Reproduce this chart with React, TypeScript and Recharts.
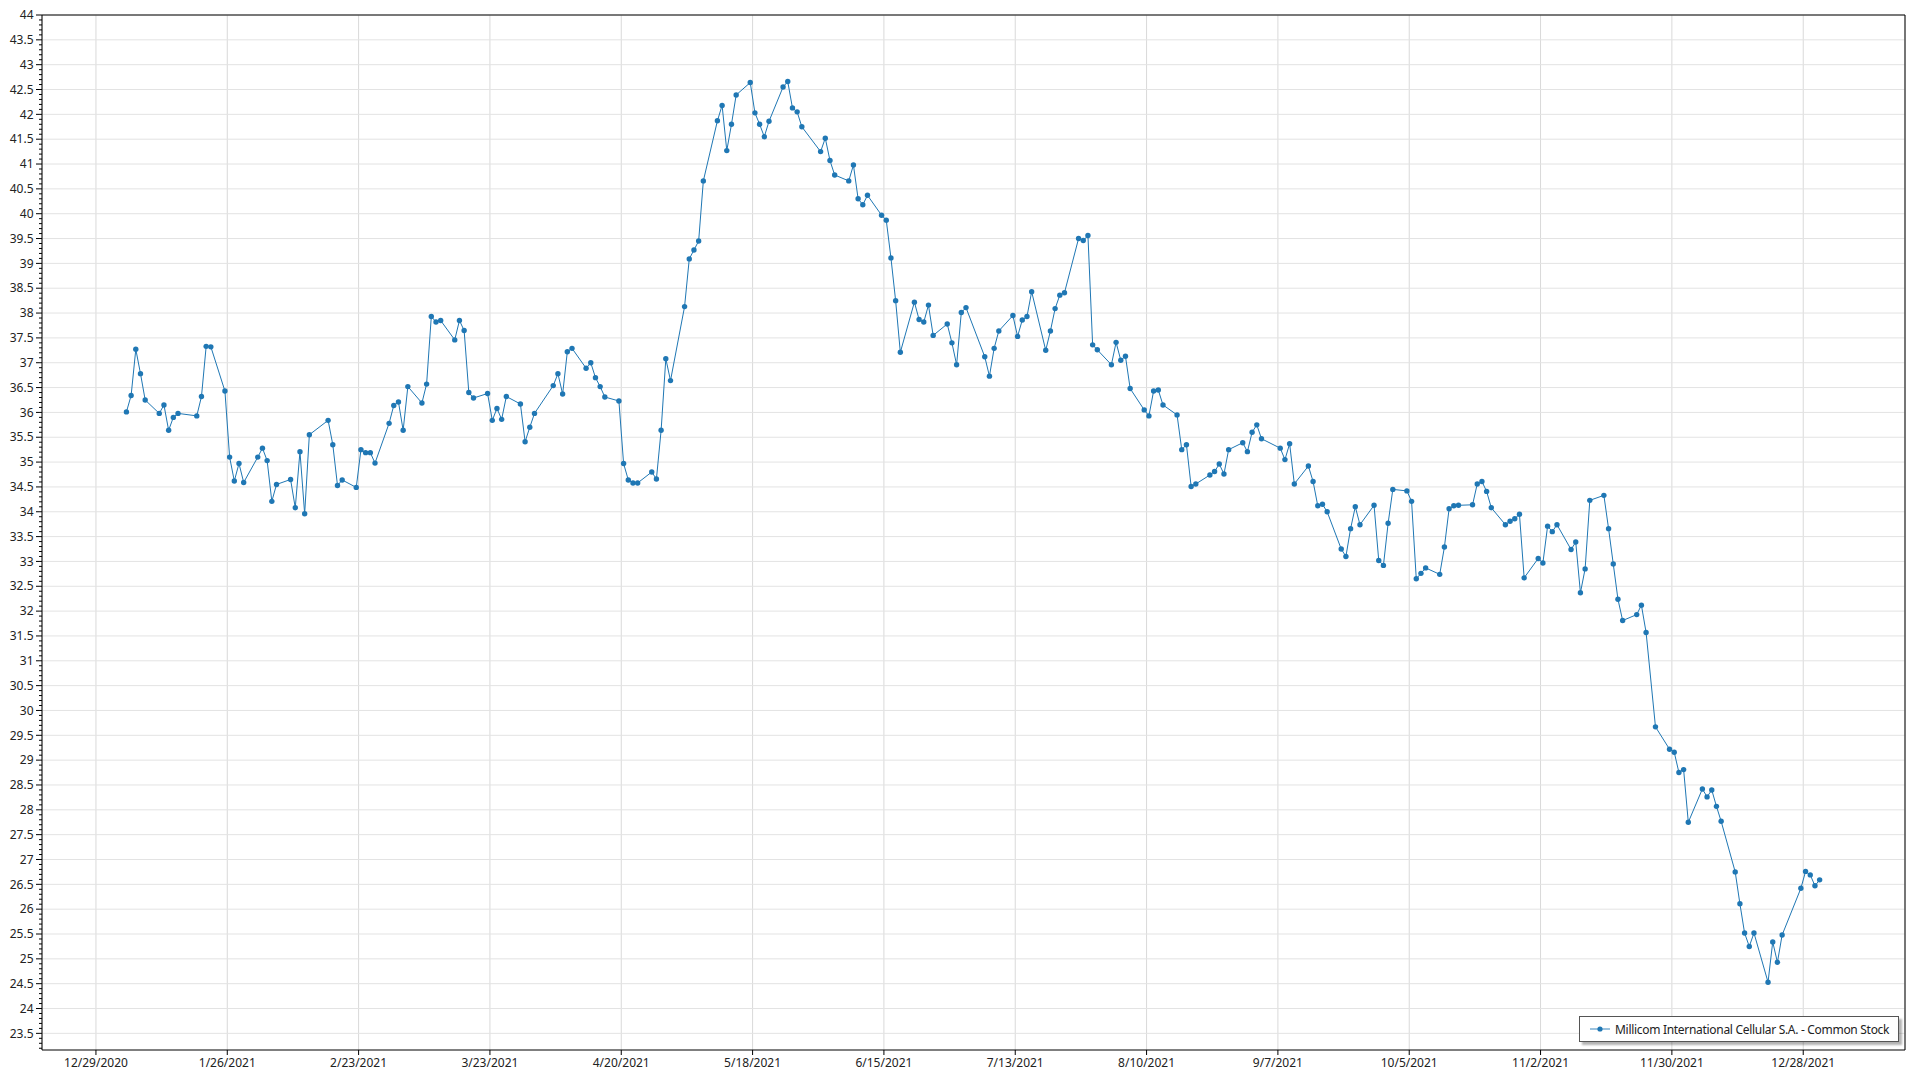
import { CartesianGrid, Legend, Line, LineChart, ReferenceLine, XAxis, YAxis } from "recharts";

// trading days of 2021 (M/D) and the closing price on each
const tradeDays = [
  "1/4", "1/5", "1/6", "1/7", "1/8", "1/11", "1/12", "1/13", "1/14", "1/15",
  "1/19", "1/20", "1/21", "1/22", "1/25", "1/26", "1/27", "1/28", "1/29",
  "2/1", "2/2", "2/3", "2/4", "2/5", "2/8", "2/9", "2/10", "2/11", "2/12",
  "2/16", "2/17", "2/18", "2/19", "2/22", "2/23", "2/24", "2/25", "2/26",
  "3/1", "3/2", "3/3", "3/4", "3/5", "3/8", "3/9", "3/10", "3/11", "3/12",
  "3/15", "3/16", "3/17", "3/18", "3/19", "3/22", "3/23", "3/24", "3/25", "3/26",
  "3/29", "3/30", "3/31", "4/1",
  "4/5", "4/6", "4/7", "4/8", "4/9", "4/12", "4/13", "4/14", "4/15", "4/16",
  "4/19", "4/20", "4/21", "4/22", "4/23", "4/26", "4/27", "4/28", "4/29", "4/30",
  "5/3", "5/4", "5/5", "5/6", "5/7", "5/10", "5/11", "5/12", "5/13", "5/14",
  "5/17", "5/18", "5/19", "5/20", "5/21", "5/24", "5/25", "5/26", "5/27", "5/28",
  "6/1", "6/2", "6/3", "6/4", "6/7", "6/8", "6/9", "6/10", "6/11",
  "6/14", "6/15", "6/16", "6/17", "6/18", "6/21", "6/22", "6/23", "6/24", "6/25",
  "6/28", "6/29", "6/30", "7/1", "7/2",
  "7/6", "7/7", "7/8", "7/9", "7/12", "7/13", "7/14", "7/15", "7/16",
  "7/19", "7/20", "7/21", "7/22", "7/23", "7/26", "7/27", "7/28", "7/29", "7/30",
  "8/2", "8/3", "8/4", "8/5", "8/6", "8/9", "8/10", "8/11", "8/12", "8/13",
  "8/16", "8/17", "8/18", "8/19", "8/20", "8/23", "8/24", "8/25", "8/26", "8/27",
  "8/30", "8/31", "9/1", "9/2", "9/3",
  "9/7", "9/8", "9/9", "9/10", "9/13", "9/14", "9/15", "9/16", "9/17",
  "9/20", "9/21", "9/22", "9/23", "9/24", "9/27", "9/28", "9/29", "9/30", "10/1",
  "10/4", "10/5", "10/6", "10/7", "10/8", "10/11", "10/12", "10/13", "10/14", "10/15",
  "10/18", "10/19", "10/20", "10/21", "10/22", "10/25", "10/26", "10/27", "10/28", "10/29",
  "11/1", "11/2", "11/3", "11/4", "11/5", "11/8", "11/9", "11/10", "11/11", "11/12",
  "11/15", "11/16", "11/17", "11/18", "11/19", "11/22", "11/23", "11/24", "11/26",
  "11/29", "11/30", "12/1", "12/2", "12/3", "12/6", "12/7", "12/8", "12/9", "12/10",
  "12/13", "12/14", "12/15", "12/16", "12/17", "12/20", "12/21", "12/22", "12/23",
  "12/27", "12/28", "12/29", "12/30", "12/31",
];

const closes = [
  36.01, 36.34, 37.27, 36.78, 36.25, 35.98, 36.15, 35.64, 35.9, 35.98,
  35.93, 36.32, 37.33, 37.32, 36.43, 35.1, 34.62, 34.97, 34.59,
  35.1, 35.28, 35.03, 34.21, 34.55, 34.65, 34.08, 35.21, 33.96, 35.55,
  35.84, 35.35, 34.53, 34.64, 34.49, 35.25, 35.19, 35.19, 34.98,
  35.78, 36.14, 36.21, 35.64, 36.52, 36.19, 36.57, 37.93, 37.82, 37.85,
  37.46, 37.85, 37.65, 36.4, 36.29, 36.38, 35.84, 36.08, 35.86, 36.32,
  36.17, 35.41, 35.7, 35.98,
  36.54, 36.78, 36.37, 37.22, 37.29, 36.89, 37.0, 36.7, 36.52, 36.31,
  36.23, 34.97, 34.64, 34.58, 34.58, 34.8, 34.66, 35.64, 37.08, 36.64,
  38.13, 39.09, 39.27, 39.45, 40.66, 41.87, 42.18, 41.27, 41.8, 42.39,
  42.64, 42.03, 41.8, 41.55, 41.86, 42.55, 42.66, 42.13, 42.05, 41.75,
  41.25, 41.52, 41.07, 40.78, 40.66, 40.98, 40.3, 40.18, 40.37,
  39.97, 39.87, 39.11, 38.25, 37.21, 38.22, 37.87, 37.82, 38.16, 37.55,
  37.78, 37.4, 36.96, 38.01, 38.11,
  37.12, 36.73, 37.29, 37.64, 37.95, 37.53, 37.86, 37.93, 38.43,
  37.25, 37.64, 38.09, 38.36, 38.41, 39.5, 39.46, 39.56, 37.36, 37.26,
  36.96, 37.41, 37.05, 37.13, 36.48, 36.05, 35.93, 36.43, 36.45, 36.15,
  35.95, 35.25, 35.35, 34.51, 34.56, 34.74, 34.81, 34.96, 34.76, 35.25,
  35.39, 35.21, 35.6, 35.75, 35.47,
  35.28, 35.05, 35.37, 34.56, 34.92, 34.61, 34.12, 34.15, 34.0,
  33.25, 33.1, 33.66, 34.1, 33.74, 34.13, 33.02, 32.92, 33.77, 34.45,
  34.42, 34.21, 32.65, 32.76, 32.87, 32.74, 33.29, 34.06, 34.12, 34.13,
  34.14, 34.56, 34.61, 34.41, 34.08, 33.74, 33.81, 33.86, 33.95, 32.67,
  33.06, 32.97, 33.71, 33.6, 33.74, 33.24, 33.39, 32.37, 32.85, 34.23,
  34.33, 33.66, 32.95, 32.24, 31.81, 31.93, 32.12, 31.57, 29.67,
  29.22, 29.16, 28.75, 28.81, 27.75, 28.42, 28.26, 28.4, 28.07, 27.77,
  26.75, 26.11, 25.52, 25.25, 25.52, 24.53, 25.34, 24.93, 25.48,
  26.42, 26.76, 26.69, 26.47, 26.59,
];

const dateTicks = [
  "12/29/2020", "1/26/2021", "2/23/2021", "3/23/2021", "4/20/2021", "5/18/2021", "6/15/2021",
  "7/13/2021", "8/10/2021", "9/7/2021", "10/5/2021", "11/2/2021", "11/30/2021", "12/28/2021",
];

const seriesName = "Millicom International Cellular S.A. - Common Stock";

const DAY = 86400000;
const FONT = "'Noto Sans', 'Open Sans', sans-serif";
const BLUE = "#1f77b4";

const parseDate = (s: string) => {
  const [m, d, y] = s.split("/").map(Number);
  return Date.UTC(y, m - 1, d);
};

// the closes are plotted at midday of their trading day
const data = tradeDays.map((d, i) => ({
  t: parseDate(`${d}/2021`) + DAY / 2,
  price: closes[i],
}));

const xTicks = dateTicks.map(parseDate);
const xMin = xTicks[0] - 11.5 * DAY;
const xMax = xTicks[0] + 385.7 * DAY;

const yMin = 23.165;
const yMax = 44;
const yMajor = Array.from({ length: 42 }, (_, i) => 23.5 + i * 0.5);
const yAll = Array.from({ length: 209 }, (_, i) => Math.round((23.2 + i * 0.1) * 10) / 10);

const formatDate = (t: number) => {
  const d = new Date(t);
  return `${d.getUTCMonth() + 1}/${d.getUTCDate()}/${d.getUTCFullYear()}`;
};

function PriceTick({ x, y, payload }: any) {
  const v = payload.value as number;
  const major = Math.abs(v * 2 - Math.round(v * 2)) < 1e-6;
  return (
    <g>
      <line x1={x - (major ? 6 : 3)} x2={x} y1={y} y2={y} stroke="#000" strokeWidth={1} />
      {major && (
        <text x={x - 8.5} y={y} dy="0.35em" textAnchor="end" fontSize={12} fill="#222">
          {String(v)}
        </text>
      )}
    </g>
  );
}

function SeriesLegend({ payload }: any) {
  const entry = payload && payload[0];
  return (
    <div
      style={{
        boxSizing: "border-box",
        width: 320,
        height: 26,
        border: "1px solid #555",
        background: "#fff",
        boxShadow: "3px 3px 2px rgba(0,0,0,0.3)",
        display: "flex",
        alignItems: "center",
        fontFamily: FONT,
        fontSize: 12,
        letterSpacing: "-0.3px",
        color: "#222",
      }}
    >
      <svg width={35} height={24} style={{ flex: "none" }}>
        <line x1={10} x2={30} y1={12} y2={12} stroke={BLUE} strokeOpacity={0.6} strokeWidth={1.5} />
        <circle cx={20} cy={12} r={2.6} fill={BLUE} />
      </svg>
      <span style={{ whiteSpace: "nowrap" }}>{entry ? entry.value : seriesName}</span>
    </div>
  );
}

export default function App() {
  return (
    <div style={{ position: "absolute", left: 0, top: 0, width: 1920, height: 1080, background: "#fff", fontFamily: FONT }}>
      <LineChart width={1920} height={1080} data={data} margin={{ top: 15, right: 15, left: 0, bottom: 0 }}>
        <CartesianGrid horizontal={false} vertical={true} stroke="#d9d9d9" />
        <CartesianGrid horizontal={true} vertical={false} stroke="#e3e3e3" horizontalValues={yMajor} />
        <XAxis
          dataKey="t"
          type="number"
          domain={[xMin, xMax]}
          allowDataOverflow
          ticks={xTicks}
          interval={0}
          tickFormatter={formatDate}
          height={30}
          tickSize={5}
          tickMargin={3}
          stroke="#000"
          tick={{ fontSize: 12, fill: "#222" }}
        />
        <YAxis
          type="number"
          domain={[yMin, yMax]}
          allowDataOverflow
          ticks={yAll}
          interval={0}
          width={42}
          tickLine={false}
          tickSize={0}
          tickMargin={0}
          stroke="#000"
          tick={<PriceTick />}
        />
        <ReferenceLine y={yMax} stroke="#000" strokeWidth={1} />
        <ReferenceLine x={xMax} stroke="#000" strokeWidth={1} />
        <Legend
          layout="horizontal"
          verticalAlign="middle"
          align="center"
          content={<SeriesLegend />}
          wrapperStyle={{ left: 1579, top: 1016, width: 320, height: 26 }}
        />
        <Line
          type="linear"
          dataKey="price"
          name={seriesName}
          stroke={BLUE}
          strokeWidth={1}
          dot={{ r: 2.7, fill: BLUE, stroke: "none" }}
          activeDot={false}
          isAnimationActive={false}
        />
      </LineChart>
    </div>
  );
}
